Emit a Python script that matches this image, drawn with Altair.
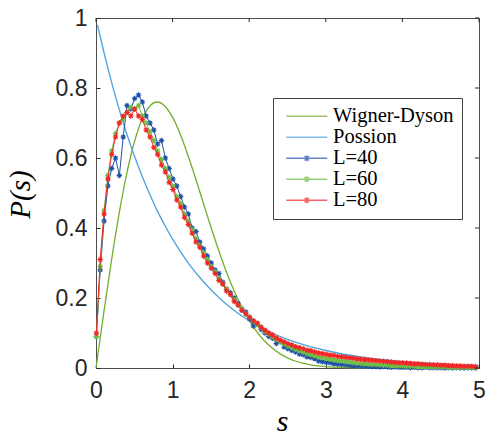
import altair as alt
import pandas as pd

# ---- data ----
S = [0.005, 0.055, 0.105, 0.155, 0.205, 0.255, 0.305, 0.355, 0.405, 0.455,
     0.505, 0.555, 0.605, 0.655, 0.705, 0.755, 0.805, 0.855, 0.905, 0.955,
     1.005, 1.055, 1.105, 1.155, 1.205, 1.255, 1.305, 1.355, 1.405, 1.455,
     1.505, 1.555, 1.605, 1.655, 1.705, 1.755, 1.805, 1.855, 1.905, 1.955,
     2.005, 2.055, 2.105, 2.155, 2.205, 2.255, 2.305, 2.355, 2.405, 2.455,
     2.505, 2.555, 2.605, 2.655, 2.705, 2.755, 2.805, 2.855, 2.905, 2.955,
     3.005, 3.055, 3.105, 3.155, 3.205, 3.255, 3.305, 3.355, 3.405, 3.455,
     3.505, 3.555, 3.605, 3.655, 3.705, 3.755, 3.805, 3.855, 3.905, 3.955,
     4.005, 4.055, 4.105, 4.155, 4.205, 4.255, 4.305, 4.355, 4.405, 4.455,
     4.505, 4.555, 4.605, 4.655, 4.705, 4.755, 4.805, 4.855, 4.905, 4.955]

L40 = [0.09, 0.28, 0.42, 0.52, 0.57, 0.60, 0.55, 0.66, 0.75, 0.74,
       0.77, 0.78, 0.76, 0.72, 0.70, 0.68, 0.64, 0.65, 0.60, 0.57,
       0.54, 0.52, 0.49, 0.46, 0.44, 0.40, 0.39, 0.36, 0.34, 0.32,
       0.30, 0.28, 0.27, 0.245, 0.225, 0.215, 0.20, 0.185, 0.165, 0.16,
       0.14, 0.12, 0.125, 0.11, 0.10, 0.09, 0.085, 0.07, 0.075, 0.06,
       0.055, 0.05, 0.046, 0.04, 0.038, 0.032, 0.03, 0.027, 0.02, 0.018,
       0.016, 0.015, 0.012, 0.011, 0.010, 0.009, 0.008, 0.007, 0.006, 0.006,
       0.005, 0.005, 0.004, 0.004, 0.003, 0.004, 0.003, 0.002, 0.003, 0.002,
       0.002, 0.002, 0.001, 0.002, 0.001, 0.001, 0.002, 0.001, 0.001, 0.001,
       0.001, 0.0, 0.001, 0.0, 0.001, 0.0, 0.0, 0.001, 0.0, 0.0]

L60 = [0.09, 0.29, 0.45, 0.55, 0.62, 0.67, 0.70, 0.71, 0.73, 0.745,
       0.74, 0.75, 0.72, 0.70, 0.675, 0.65, 0.62, 0.595, 0.57, 0.545,
       0.52, 0.49, 0.47, 0.44, 0.42, 0.395, 0.37, 0.35, 0.33, 0.31,
       0.29, 0.275, 0.255, 0.24, 0.225, 0.21, 0.195, 0.18, 0.17, 0.155,
       0.145, 0.135, 0.124, 0.115, 0.105, 0.097, 0.089, 0.082, 0.075, 0.069,
       0.063, 0.058, 0.053, 0.049, 0.045, 0.041, 0.038, 0.035, 0.032, 0.030,
       0.027, 0.025, 0.023, 0.021, 0.020, 0.018, 0.017, 0.015, 0.014, 0.013,
       0.012, 0.011, 0.010, 0.010, 0.009, 0.008, 0.008, 0.007, 0.007, 0.006,
       0.006, 0.005, 0.005, 0.005, 0.004, 0.004, 0.004, 0.003, 0.003, 0.003,
       0.003, 0.003, 0.002, 0.002, 0.002, 0.002, 0.002, 0.002, 0.001, 0.001]

L80 = [0.10, 0.31, 0.44, 0.54, 0.61, 0.66, 0.70, 0.72, 0.73, 0.72,
       0.74, 0.72, 0.71, 0.68, 0.66, 0.63, 0.61, 0.58, 0.56, 0.53,
       0.51, 0.48, 0.46, 0.43, 0.41, 0.385, 0.36, 0.345, 0.32, 0.30,
       0.285, 0.27, 0.25, 0.24, 0.22, 0.21, 0.19, 0.18, 0.165, 0.155,
       0.145, 0.135, 0.128, 0.117, 0.108, 0.10, 0.094, 0.086, 0.080, 0.075,
       0.070, 0.066, 0.061, 0.058, 0.055, 0.051, 0.049, 0.046, 0.043, 0.041,
       0.039, 0.037, 0.036, 0.033, 0.032, 0.031, 0.029, 0.028, 0.026, 0.025,
       0.024, 0.023, 0.022, 0.021, 0.020, 0.019, 0.018, 0.017, 0.016, 0.015,
       0.015, 0.014, 0.013, 0.012, 0.012, 0.011, 0.010, 0.010, 0.009, 0.009,
       0.008, 0.008, 0.007, 0.007, 0.006, 0.006, 0.005, 0.005, 0.005, 0.004]

WD_S = [0.0, 0.1, 0.2, 0.3, 0.4, 0.5, 0.6, 0.7, 0.8, 0.9,
        1.0, 1.1, 1.2, 1.3, 1.4, 1.5, 1.6, 1.7, 1.8, 1.9,
        2.0, 2.1, 2.2, 2.3, 2.4, 2.5, 2.6, 2.7, 2.8, 2.9,
        3.0, 3.2, 3.4, 3.6, 3.8, 4.0, 4.5, 5.0]
WD_P = [0.0, 0.156, 0.304, 0.439, 0.554, 0.645, 0.710, 0.748, 0.760, 0.748,
        0.716, 0.668, 0.608, 0.542, 0.472, 0.403, 0.337, 0.276, 0.222, 0.175,
        0.136, 0.103, 0.077, 0.057, 0.041, 0.029, 0.020, 0.014, 0.009, 0.006,
        0.004, 0.0016, 0.0006, 0.0002, 0.0001, 0.0, 0.0, 0.0]

PO_S = [0.02, 0.1, 0.2, 0.3, 0.4, 0.5, 0.6, 0.7, 0.8, 0.9, 1.0, 1.2,
        1.4, 1.6, 1.8, 2.0, 2.25, 2.5, 2.75, 3.0, 3.5, 4.0, 4.5, 5.0]
PO_P = [0.980, 0.905, 0.819, 0.741, 0.670, 0.607, 0.549, 0.497, 0.449, 0.407, 0.368, 0.301,
        0.247, 0.202, 0.165, 0.135, 0.105, 0.082, 0.064, 0.050, 0.030, 0.018, 0.011, 0.007]

NAMES = ["Wigner-Dyson", "Possion", "L=40", "L=60", "L=80"]
COLORS = ["#77AC30", "#4AA3DE", "#1F50A8", "#6CBE45", "#F22626"]
X_TICKS = [0, 1, 2, 3, 4, 5]
Y_TICKS = [0, 0.2, 0.4, 0.6, 0.8, 1]

# ---- tables ----
frames = [
    pd.DataFrame({"s": WD_S, "P": WD_P, "series": NAMES[0]}),
    pd.DataFrame({"s": PO_S, "P": PO_P, "series": NAMES[1]}),
    pd.DataFrame({"s": S, "P": L40, "series": NAMES[2]}),
    pd.DataFrame({"s": S, "P": L60, "series": NAMES[3]}),
    pd.DataFrame({"s": S, "P": L80, "series": NAMES[4]}),
]
df = pd.concat(frames, ignore_index=True)
ytick_df = pd.DataFrame({"P": Y_TICKS})
xtick_df = pd.DataFrame({"s": X_TICKS})

W, H = 383, 350
TICK = "#262626"

X = alt.X("s:Q", scale=alt.Scale(domain=[0, 5], nice=False, zero=False),
          axis=alt.Axis(values=X_TICKS, format="~g", offset=-4, tickSize=4, domain=False,
                        grid=False, labelFont="Liberation Sans", labelFontSize=23,
                        labelColor=TICK, labelPadding=11, tickColor=TICK, labelFlush=False,
                        title="s", titleFont="Liberation Serif", titleFontStyle="italic",
                        titleFontWeight="normal", titleFontSize=30, titleColor="black",
                        titleX=186, titleY=66, titleBaseline="alphabetic", titleAlign="center"))
Y = alt.Y("P:Q", scale=alt.Scale(domain=[0, 1], nice=False, zero=False),
          axis=alt.Axis(values=Y_TICKS, format="~g", offset=-4, tickSize=4, domain=False,
                        grid=False, labelFont="Liberation Sans", labelFontSize=23,
                        labelColor=TICK, labelPadding=9, tickColor=TICK, labelFlush=False,
                        title="P(s)", titleFont="Liberation Serif", titleFontStyle="italic",
                        titleFontWeight="normal", titleFontSize=29, titleColor="black",
                        titleX=-80, titleY=176, titleAngle=-90, titleBaseline="middle",
                        titleAlign="center"))

ASTER = "M-1,0L1,0M0,-1L0,1M-0.7,-0.7L0.7,0.7M-0.7,0.7L0.7,-0.7"
# legend symbols: size 100 -> 1 unit = 5 px; line spans +-4.1 units (41 px)
LINE_SYM = "M-4.1,0L4.1,0"
MARK_SYM = ("M-4.1,0L4.1,0M0,-0.6L0,0.6M-0.6,0L0.6,0"
            "M-0.45,-0.45L0.45,0.45M-0.45,0.45L0.45,-0.45")
SHAPES = [LINE_SYM, LINE_SYM, MARK_SYM, MARK_SYM, MARK_SYM]

layers = []
# theory curves
layers.append(alt.Chart(df).transform_filter(alt.datum.series == NAMES[0])
              .mark_line(color=COLORS[0], strokeWidth=1.3, interpolate="monotone")
              .encode(x=X, y=Y))
layers.append(alt.Chart(df).transform_filter(alt.datum.series == NAMES[1])
              .mark_line(color=COLORS[1], strokeWidth=1.3, interpolate="monotone")
              .encode(x=X, y=Y))
# data series: line + asterisk markers
for name, col in zip(NAMES[2:], COLORS[2:]):
    base = alt.Chart(df).transform_filter(alt.datum.series == name)
    layers.append(base.mark_line(color=col, strokeWidth=1.0).encode(x=X, y=Y))
    layers.append(base.mark_point(shape=ASTER, filled=False, size=30, strokeWidth=1.2,
                                  color=col, opacity=1).encode(x=X, y=Y))

# inward ticks on the right and top sides (box style)
layers.append(alt.Chart(ytick_df).mark_rule(color=TICK, strokeWidth=1)
              .encode(y=Y, x=alt.value(W - 4), x2=alt.value(W)))
layers.append(alt.Chart(xtick_df).mark_rule(color=TICK, strokeWidth=1)
              .encode(x=X, y=alt.value(0), y2=alt.value(4)))

# legend (built from an empty selection of the data, scale domains give entries)
LEG = alt.Legend(orient="none", legendX=177, legendY=80, title=None, direction="vertical",
                 strokeColor="#404040", fillColor="white", padding=8, rowPadding=0,
                 labelFont="Liberation Serif", labelFontSize=20.5, labelColor="black",
                 labelOffset=16, symbolOffset=15.5, symbolStrokeWidth=1.4, symbolSize=100,
                 labelLimit=0, cornerRadius=0)
layers.append(alt.Chart(df).transform_filter("false").mark_point(filled=False)
              .encode(x=X, y=Y,
                      color=alt.Color("series:N", scale=alt.Scale(domain=NAMES, range=COLORS), legend=LEG),
                      shape=alt.Shape("series:N", scale=alt.Scale(domain=NAMES, range=SHAPES), legend=LEG)))

chart = (alt.layer(*layers)
         .properties(width=W, height=H, autosize=alt.AutoSizeParams(type="none"),
                     padding={"left": 96, "top": 18, "right": 6, "bottom": 67},
                     background="white")
         .configure_view(stroke="#4d4d4d", strokeWidth=1))

chart.save("out.html", embed_options={"renderer": "svg", "actions": False})
